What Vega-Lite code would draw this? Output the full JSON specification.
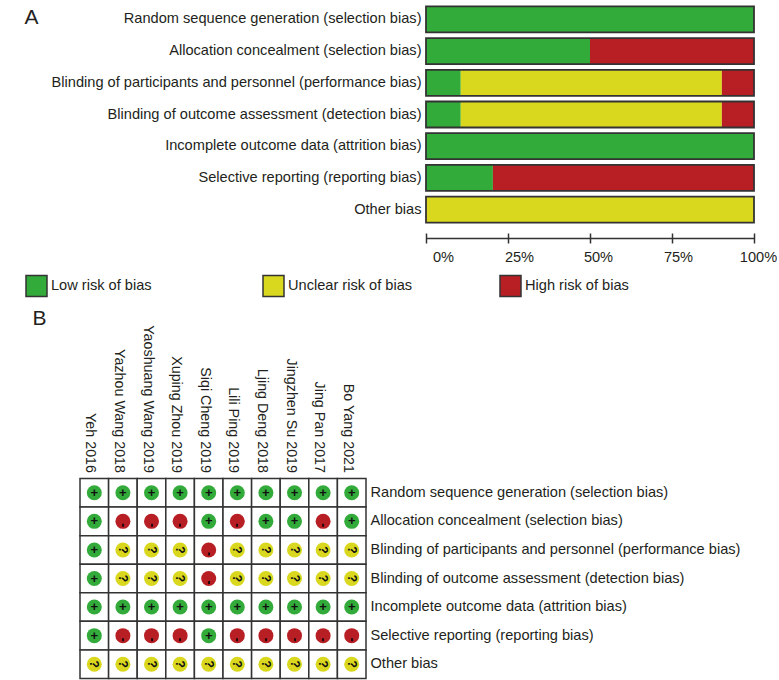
{"$schema":"https://vega.github.io/schema/vega-lite/v6.json","padding":{"left":24,"top":3.5,"right":0,"bottom":0},"background":"white","config":{"view":{"stroke":null},"font":"Liberation Sans","axis":{"labelColor":"#231f20","labelFontSize":14.6,"grid":false},"legend":{"labelColor":"#231f20"}},"columns":2,"align":"each","spacing":{"column":60,"row":253},"bounds":"flush","datasets":{"bars":[{"domain":"Random sequence generation (selection bias)","risk":"Low risk of bias","percent":100},{"domain":"Allocation concealment (selection bias)","risk":"Low risk of bias","percent":50},{"domain":"Allocation concealment (selection bias)","risk":"High risk of bias","percent":50},{"domain":"Blinding of participants and personnel (performance bias)","risk":"Low risk of bias","percent":10.6},{"domain":"Blinding of participants and personnel (performance bias)","risk":"Unclear risk of bias","percent":79.6},{"domain":"Blinding of participants and personnel (performance bias)","risk":"High risk of bias","percent":9.8},{"domain":"Blinding of outcome assessment (detection bias)","risk":"Low risk of bias","percent":10.6},{"domain":"Blinding of outcome assessment (detection bias)","risk":"Unclear risk of bias","percent":79.6},{"domain":"Blinding of outcome assessment (detection bias)","risk":"High risk of bias","percent":9.8},{"domain":"Incomplete outcome data (attrition bias)","risk":"Low risk of bias","percent":100},{"domain":"Selective reporting (reporting bias)","risk":"Low risk of bias","percent":20.4},{"domain":"Selective reporting (reporting bias)","risk":"High risk of bias","percent":79.6},{"domain":"Other bias","risk":"Unclear risk of bias","percent":100}],"totals":[{"domain":"Random sequence generation (selection bias)","total":100},{"domain":"Allocation concealment (selection bias)","total":100},{"domain":"Blinding of participants and personnel (performance bias)","total":100},{"domain":"Blinding of outcome assessment (detection bias)","total":100},{"domain":"Incomplete outcome data (attrition bias)","total":100},{"domain":"Selective reporting (reporting bias)","total":100},{"domain":"Other bias","total":100}],"cells":[
{"s":"Yeh 2016","d":"Random sequence generation (selection bias)","r":"L","t":"+"},{"s":"Yazhou Wang 2018","d":"Random sequence generation (selection bias)","r":"L","t":"+"},{"s":"Yaoshuang Wang 2019","d":"Random sequence generation (selection bias)","r":"L","t":"+"},{"s":"Xuping Zhou 2019","d":"Random sequence generation (selection bias)","r":"L","t":"+"},{"s":"Siqi Cheng 2019","d":"Random sequence generation (selection bias)","r":"L","t":"+"},{"s":"Lili Ping 2019","d":"Random sequence generation (selection bias)","r":"L","t":"+"},{"s":"Ljing Deng 2018","d":"Random sequence generation (selection bias)","r":"L","t":"+"},{"s":"Jingzhen Su 2019","d":"Random sequence generation (selection bias)","r":"L","t":"+"},{"s":"Jing Pan 2017","d":"Random sequence generation (selection bias)","r":"L","t":"+"},{"s":"Bo Yang 2021","d":"Random sequence generation (selection bias)","r":"L","t":"+"},
{"s":"Yeh 2016","d":"Allocation concealment (selection bias)","r":"L","t":"+"},{"s":"Yazhou Wang 2018","d":"Allocation concealment (selection bias)","r":"H","t":"-"},{"s":"Yaoshuang Wang 2019","d":"Allocation concealment (selection bias)","r":"H","t":"-"},{"s":"Xuping Zhou 2019","d":"Allocation concealment (selection bias)","r":"H","t":"-"},{"s":"Siqi Cheng 2019","d":"Allocation concealment (selection bias)","r":"L","t":"+"},{"s":"Lili Ping 2019","d":"Allocation concealment (selection bias)","r":"H","t":"-"},{"s":"Ljing Deng 2018","d":"Allocation concealment (selection bias)","r":"L","t":"+"},{"s":"Jingzhen Su 2019","d":"Allocation concealment (selection bias)","r":"L","t":"+"},{"s":"Jing Pan 2017","d":"Allocation concealment (selection bias)","r":"H","t":"-"},{"s":"Bo Yang 2021","d":"Allocation concealment (selection bias)","r":"L","t":"+"},
{"s":"Yeh 2016","d":"Blinding of participants and personnel (performance bias)","r":"L","t":"+"},{"s":"Yazhou Wang 2018","d":"Blinding of participants and personnel (performance bias)","r":"U","t":"?"},{"s":"Yaoshuang Wang 2019","d":"Blinding of participants and personnel (performance bias)","r":"U","t":"?"},{"s":"Xuping Zhou 2019","d":"Blinding of participants and personnel (performance bias)","r":"U","t":"?"},{"s":"Siqi Cheng 2019","d":"Blinding of participants and personnel (performance bias)","r":"H","t":"-"},{"s":"Lili Ping 2019","d":"Blinding of participants and personnel (performance bias)","r":"U","t":"?"},{"s":"Ljing Deng 2018","d":"Blinding of participants and personnel (performance bias)","r":"U","t":"?"},{"s":"Jingzhen Su 2019","d":"Blinding of participants and personnel (performance bias)","r":"U","t":"?"},{"s":"Jing Pan 2017","d":"Blinding of participants and personnel (performance bias)","r":"U","t":"?"},{"s":"Bo Yang 2021","d":"Blinding of participants and personnel (performance bias)","r":"U","t":"?"},
{"s":"Yeh 2016","d":"Blinding of outcome assessment (detection bias)","r":"L","t":"+"},{"s":"Yazhou Wang 2018","d":"Blinding of outcome assessment (detection bias)","r":"U","t":"?"},{"s":"Yaoshuang Wang 2019","d":"Blinding of outcome assessment (detection bias)","r":"U","t":"?"},{"s":"Xuping Zhou 2019","d":"Blinding of outcome assessment (detection bias)","r":"U","t":"?"},{"s":"Siqi Cheng 2019","d":"Blinding of outcome assessment (detection bias)","r":"H","t":"-"},{"s":"Lili Ping 2019","d":"Blinding of outcome assessment (detection bias)","r":"U","t":"?"},{"s":"Ljing Deng 2018","d":"Blinding of outcome assessment (detection bias)","r":"U","t":"?"},{"s":"Jingzhen Su 2019","d":"Blinding of outcome assessment (detection bias)","r":"U","t":"?"},{"s":"Jing Pan 2017","d":"Blinding of outcome assessment (detection bias)","r":"U","t":"?"},{"s":"Bo Yang 2021","d":"Blinding of outcome assessment (detection bias)","r":"U","t":"?"},
{"s":"Yeh 2016","d":"Incomplete outcome data (attrition bias)","r":"L","t":"+"},{"s":"Yazhou Wang 2018","d":"Incomplete outcome data (attrition bias)","r":"L","t":"+"},{"s":"Yaoshuang Wang 2019","d":"Incomplete outcome data (attrition bias)","r":"L","t":"+"},{"s":"Xuping Zhou 2019","d":"Incomplete outcome data (attrition bias)","r":"L","t":"+"},{"s":"Siqi Cheng 2019","d":"Incomplete outcome data (attrition bias)","r":"L","t":"+"},{"s":"Lili Ping 2019","d":"Incomplete outcome data (attrition bias)","r":"L","t":"+"},{"s":"Ljing Deng 2018","d":"Incomplete outcome data (attrition bias)","r":"L","t":"+"},{"s":"Jingzhen Su 2019","d":"Incomplete outcome data (attrition bias)","r":"L","t":"+"},{"s":"Jing Pan 2017","d":"Incomplete outcome data (attrition bias)","r":"L","t":"+"},{"s":"Bo Yang 2021","d":"Incomplete outcome data (attrition bias)","r":"L","t":"+"},
{"s":"Yeh 2016","d":"Selective reporting (reporting bias)","r":"L","t":"+"},{"s":"Yazhou Wang 2018","d":"Selective reporting (reporting bias)","r":"H","t":"-"},{"s":"Yaoshuang Wang 2019","d":"Selective reporting (reporting bias)","r":"H","t":"-"},{"s":"Xuping Zhou 2019","d":"Selective reporting (reporting bias)","r":"H","t":"-"},{"s":"Siqi Cheng 2019","d":"Selective reporting (reporting bias)","r":"L","t":"+"},{"s":"Lili Ping 2019","d":"Selective reporting (reporting bias)","r":"H","t":"-"},{"s":"Ljing Deng 2018","d":"Selective reporting (reporting bias)","r":"H","t":"-"},{"s":"Jingzhen Su 2019","d":"Selective reporting (reporting bias)","r":"H","t":"-"},{"s":"Jing Pan 2017","d":"Selective reporting (reporting bias)","r":"H","t":"-"},{"s":"Bo Yang 2021","d":"Selective reporting (reporting bias)","r":"H","t":"-"},
{"s":"Yeh 2016","d":"Other bias","r":"U","t":"?"},{"s":"Yazhou Wang 2018","d":"Other bias","r":"U","t":"?"},{"s":"Yaoshuang Wang 2019","d":"Other bias","r":"U","t":"?"},{"s":"Xuping Zhou 2019","d":"Other bias","r":"U","t":"?"},{"s":"Siqi Cheng 2019","d":"Other bias","r":"U","t":"?"},{"s":"Lili Ping 2019","d":"Other bias","r":"U","t":"?"},{"s":"Ljing Deng 2018","d":"Other bias","r":"U","t":"?"},{"s":"Jingzhen Su 2019","d":"Other bias","r":"U","t":"?"},{"s":"Jing Pan 2017","d":"Other bias","r":"U","t":"?"},{"s":"Bo Yang 2021","d":"Other bias","r":"U","t":"?"}
]},"concat":[{"width":286,"height":222,"data":{"values":[]},"mark":{"type":"point"},"encoding":{}},{"width":328,"height":222,"resolve":{"axis":{"x":"independent"}},"layer":[{"data":{"name":"bars"},"mark":{"type":"bar","size":26},"encoding":{"y":{"field":"domain","type":"nominal","sort":null,"scale":{"paddingInner":0,"paddingOuter":0,"domain":["Random sequence generation (selection bias)","Allocation concealment (selection bias)","Blinding of participants and personnel (performance bias)","Blinding of outcome assessment (detection bias)","Incomplete outcome data (attrition bias)","Selective reporting (reporting bias)","Other bias"]},"axis":{"title":"A","titleAngle":0,"titleX":-402,"titleY":23.5,"titleFontSize":21,"titleFontWeight":"normal","titleColor":"#231f20","titleAlign":"left","domain":false,"ticks":false,"labelPadding":5,"labelLimit":420}},"x":{"field":"percent","type":"quantitative","stack":"zero","scale":{"domain":[0,100],"nice":false},"axis":{"title":null,"orient":"bottom","values":[0,25,50,75,100],"offset":7.5,"domain":false,"tickSize":10,"tickWidth":1.5,"tickColor":"#333333","labelPadding":6,"labelFlush":false,"labelExpr":"datum.value+'%'","labelOffset":{"expr":"datum.value==0?17:datum.value==25?11:datum.value==50?8:datum.value==75?6:4"}}},"order":{"field":"rank"},"color":{"field":"risk","type":"nominal","scale":{"domain":["Low risk of bias","Unclear risk of bias","High risk of bias"],"range":["#33ab3a","#d9d81f","#b81f25"]},"sort":null,"legend":{"title":null,"orient":"none","legendX":-55,"legendY":271,"direction":"horizontal","columns":3,"gridAlign":"all","columnPadding":84,"symbolType":"square","symbolSize":441,"symbolStrokeColor":"#333333","symbolStrokeWidth":1.5,"symbolOpacity":1,"labelFontSize":14.6,"labelOffset":3,"labelLimit":200}}}},{"data":{"name":"totals"},"mark":{"type":"bar","size":26,"fillOpacity":0,"stroke":"#333333","strokeWidth":1.8},"encoding":{"y":{"field":"domain","type":"nominal","sort":null},"x":{"field":"total","type":"quantitative","stack":null,"axis":{"title":null,"orient":"bottom","values":[0,25,50,75,100],"offset":12.5,"domain":true,"domainColor":"#333333","domainWidth":1.5,"ticks":false,"labels":false}}}}]},{"width":286,"height":200,"data":{"name":"cells"},"encoding":{"x":{"field":"s","type":"nominal","sort":null,"scale":{"paddingInner":0,"paddingOuter":0,"domain":["Yeh 2016","Yazhou Wang 2018","Yaoshuang Wang 2019","Xuping Zhou 2019","Siqi Cheng 2019","Lili Ping 2019","Ljing Deng 2018","Jingzhen Su 2019","Jing Pan 2017","Bo Yang 2021"]},"axis":{"orient":"top","title":"B","titleX":-48,"titleY":-150,"titleFontSize":21,"titleFontWeight":"normal","titleColor":"#231f20","titleAlign":"left","domain":false,"ticks":false,"labelAngle":90,"labelPadding":6,"labelOffset":-4,"labelFontSize":14.3,"labelLimit":200}},"y":{"field":"d","type":"nominal","sort":null,"scale":{"paddingInner":0,"paddingOuter":0,"domain":["Random sequence generation (selection bias)","Allocation concealment (selection bias)","Blinding of participants and personnel (performance bias)","Blinding of outcome assessment (detection bias)","Incomplete outcome data (attrition bias)","Selective reporting (reporting bias)","Other bias"]},"axis":{"orient":"right","title":null,"domain":false,"ticks":false,"labelPadding":4,"labelLimit":420}}},"layer":[{"mark":{"type":"rect","fill":"white","stroke":"#333333","strokeWidth":1.5}},{"mark":{"type":"point","shape":"circle","filled":true,"size":225,"opacity":1},"encoding":{"color":{"field":"r","type":"nominal","scale":{"domain":["L","U","H"],"range":["#33ab3a","#d9d81f","#b81f25"]},"legend":null}}},{"transform":[{"filter":"datum.t=='+'"}],"mark":{"type":"text","fontWeight":"bold","fontSize":13,"color":"#111111","align":"center","baseline":"middle"},"encoding":{"text":{"field":"t"}}},{"transform":[{"filter":"datum.t=='?'"}],"mark":{"type":"text","fontWeight":"bold","fontSize":12,"angle":90,"color":"#111111","align":"center","baseline":"middle"},"encoding":{"text":{"field":"t"}}},{"transform":[{"filter":"datum.t=='-'"}],"mark":{"type":"text","fontSize":12,"fontWeight":"bold","angle":90,"dx":4,"color":"#000000","align":"center","baseline":"middle"},"encoding":{"text":{"field":"t"}}}],"resolve":{"scale":{"color":"independent"}}}]}
